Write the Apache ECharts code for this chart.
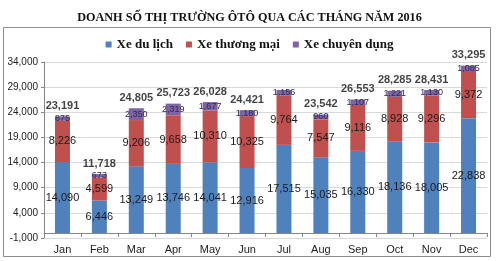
<!DOCTYPE html>
<html lang="vi">
<head>
    <meta charset="UTF-8">
    <title>Doanh số thị trường ôtô 2016</title>
    <script src="https://cdn.jsdelivr.net/npm/echarts@6/dist/echarts.min.js"></script>
</head>
<body style="margin:0;width:499px;height:261px;background:#fff">
    <div id="container" style="width:499px;height:261px"></div>
</body>
<script>
    var months = ['Jan', 'Feb', 'Mar', 'Apr', 'May', 'Jun', 'Jul', 'Aug', 'Sep', 'Oct', 'Nov', 'Dec'];
    var duLich = [14090, 6446, 13249, 13746, 14041, 12916, 17515, 15035, 16330, 18136, 18005, 22838];
    var thuongMai = [8226, 4599, 9206, 9658, 10310, 10325, 9764, 7547, 9116, 8928, 9296, 9372];
    var chuyenDung = [875, 673, 2350, 2319, 1677, 1180, 1156, 960, 1107, 1221, 1130, 1085];
    // tong (Jul khong hien tren hinh goc)
    var tong = [23191, 11718, 24805, 25723, 26028, 24421, null, 23542, 26553, 28285, 28431, 33295];

    var numFont = 'Liberation Sans Narrow, Arial Narrow, sans-serif';
    var fmt = function (p) { return p.value == null ? '' : p.value.toLocaleString('en-US'); };

    var dom = document.getElementById("container");
    var myChart = echarts.init(dom);

    var segLabel = {
        show: true,
        position: 'inside',
        color: '#1a1a1a',
        fontFamily: numFont,
        fontSize: 11,
        formatter: fmt
    };

    option = {
        animation: false,
        title: {
            text: 'DOANH SỐ THỊ TRƯỜNG ÔTÔ QUA CÁC THÁNG NĂM 2016',
            left: 'center',
            top: 7,
            textStyle: {fontFamily: 'Liberation Serif, serif', fontWeight: 'bold', fontSize: 12.2, color: '#111'}
        },
        graphic: [{
            type: 'rect',
            shape: {x: 3.5, y: 27.5, width: 487, height: 229},
            style: {fill: 'none', stroke: '#8c8c8c', lineWidth: 1}
        }],
        legend: {
            top: 33,
            left: 'center',
            itemWidth: 6,
            itemHeight: 6,
            itemGap: 13,
            icon: 'rect',
            textStyle: {fontFamily: 'Liberation Serif, serif', fontWeight: 'bold', fontSize: 13, color: '#111'},
            data: ['Xe du lịch', 'Xe thương mại', 'Xe chuyên dụng']
        },
        grid: {left: 44, right: 12, top: 62, bottom: 23},
        xAxis: {
            type: 'category',
            data: months,
            axisLine: {lineStyle: {color: '#868686'}},
            axisTick: {show: true, length: 4, lineStyle: {color: '#868686'}},
            axisLabel: {color: '#222', fontFamily: numFont, fontSize: 11, margin: 6}
        },
        yAxis: {
            type: 'value',
            min: -1000,
            max: 34000,
            interval: 5000,
            axisLine: {show: true, lineStyle: {color: '#868686'}},
            axisTick: {show: true, length: 3, lineStyle: {color: '#868686'}},
            splitLine: {lineStyle: {color: '#d9d9d9'}},
            axisLabel: {
                color: '#222', fontFamily: numFont, fontSize: 10, margin: 6,
                formatter: function (v) { return v.toLocaleString('en-US'); }
            }
        },
        series: [{
            name: 'Xe du lịch',
            type: 'bar',
            stack: 'tong',
            barWidth: 15,
            itemStyle: {color: '#4f81bd'},
            label: segLabel,
            data: duLich
        }, {
            name: 'Xe thương mại',
            type: 'bar',
            stack: 'tong',
            itemStyle: {color: '#c0504d'},
            label: segLabel,
            data: thuongMai
        }, {
            name: 'Xe chuyên dụng',
            type: 'bar',
            stack: 'tong',
            itemStyle: {color: '#8064a2'},
            label: Object.assign({}, segLabel, {fontSize: 9, color: '#2a2a55'}),
            data: chuyenDung
        }, {
            name: 'Tổng',
            type: 'scatter',
            symbol: 'circle',
            symbolSize: 0,
            silent: true,
            label: {
                show: true,
                position: 'top',
                distance: 5,
                color: '#111',
                fontFamily: numFont,
                fontWeight: 'bold',
                fontSize: 11,
                formatter: fmt
            },
            data: tong
        }]
    };
    if (option && typeof option === "object") {
        myChart.setOption(option, true);
    }
</script>
</html>
